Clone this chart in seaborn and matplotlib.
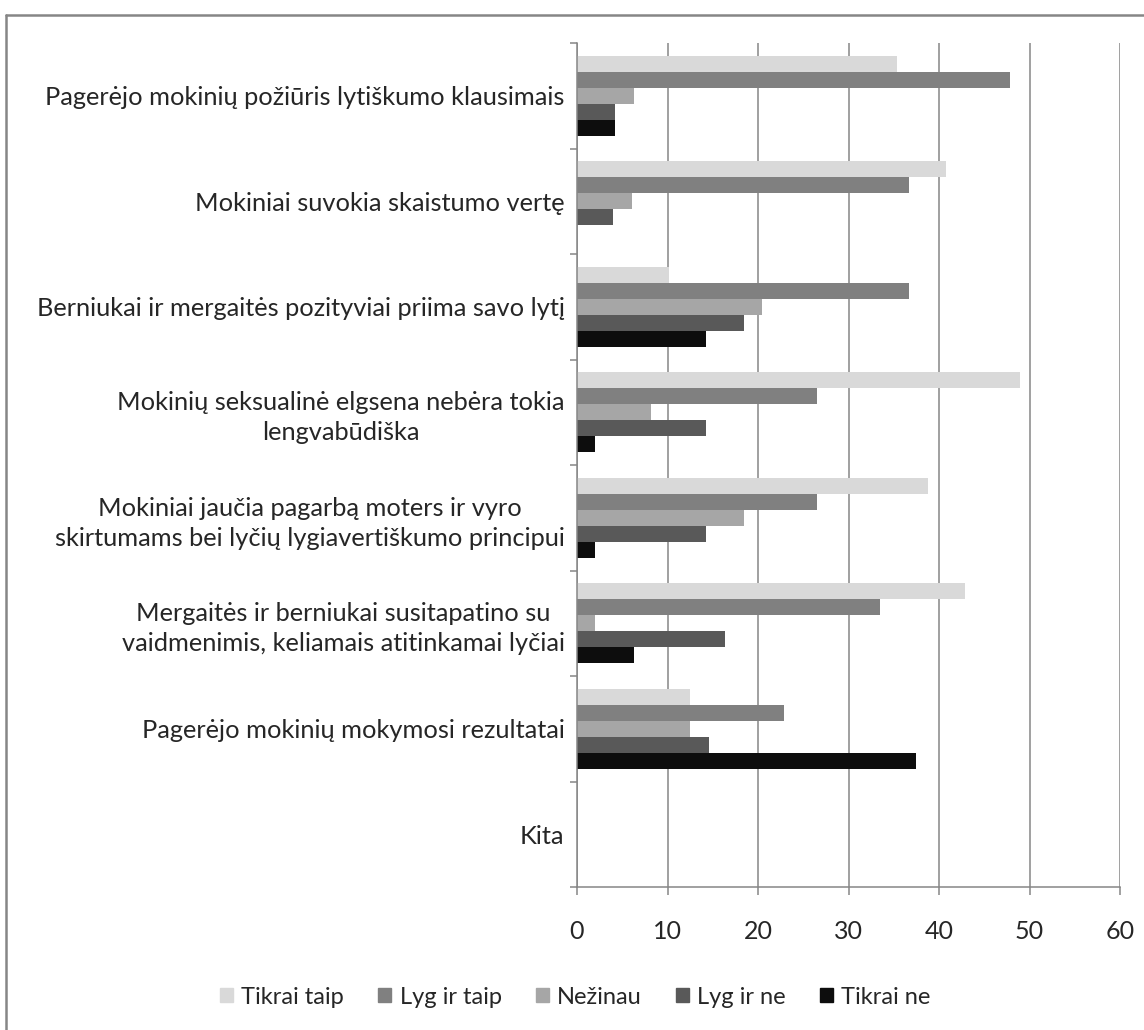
import numpy as np
import pandas as pd
import matplotlib.pyplot as plt
from matplotlib.lines import Line2D
import seaborn as sns

# %%
categories = [
    'Pagerėjo mokinių požiūris lytiškumo klausimais',
    'Mokiniai suvokia skaistumo vertę',
    'Berniukai ir mergaitės pozityviai priima savo lytį',
    'Mokinių seksualinė elgsena nebėra tokia\nlengvabūdiška',
    'Mokiniai jaučia pagarbą moters ir vyro\nskirtumams bei lyčių lygiavertiškumo principui',
    'Mergaitės ir berniukai susitapatino su\nvaidmenimis, keliamais atitinkamai lyčiai',
    'Pagerėjo mokinių mokymosi rezultatai',
    'Kita',
]
series = ['Tikrai taip', 'Lyg ir taip', 'Nežinau', 'Lyg ir ne', 'Tikrai ne']

tikrai_taip = [35.4, 40.8, 10.2, 49.0, 38.8, 42.9, 12.5, 0]
lyg_ir_taip = [47.9, 36.7, 36.7, 26.5, 26.5, 33.5, 22.9, 0]
nezinau = [6.3, 6.1, 20.4, 8.2, 18.4, 2.0, 12.5, 0]
lyg_ir_ne = [4.2, 4.0, 18.4, 14.3, 14.3, 16.3, 14.6, 0]
tikrai_ne = [4.2, 0, 14.3, 2.0, 2.0, 6.3, 37.5, 0]

x_ticks = [0, 10, 20, 30, 40, 50, 60]

colors = ['#d9d9d9', '#808080', '#a6a6a6', '#595959', '#0d0d0d']
grid_color = '#868686'

# %%
df = pd.DataFrame({
    'Category': np.repeat(categories, len(series)),
    'Series': series * len(categories),
    'Value': np.column_stack([tikrai_taip, lyg_ir_taip, nezinau,
                              lyg_ir_ne, tikrai_ne]).ravel(),
})

# %%
sns.set_style('white')
plt.rcParams['font.family'] = ['Lato', 'DejaVu Sans']

fig = plt.figure(figsize=(11.44, 10.30), dpi=100)
ax = fig.add_axes([577 / 1144, 1 - 887 / 1030, 543 / 1144, 844 / 1030])

sns.barplot(data=df, y='Category', x='Value', hue='Series',
            hue_order=series, palette=colors, width=0.76,
            orient='h', ax=ax, saturation=1, linewidth=0, errorbar=None)

ax.set_xlim(0, 60)
ax.set_ylim(len(categories) - 0.5, -0.5)
ax.set_xticks(x_ticks)
ax.set_xlabel('')
ax.set_ylabel('')
ax.set_axisbelow(True)
ax.xaxis.grid(True, color=grid_color, linewidth=1.1)

for side in ['top', 'right']:
    ax.spines[side].set_visible(False)
for side in ['left', 'bottom']:
    ax.spines[side].set_color(grid_color)
    ax.spines[side].set_linewidth(1.1)

ax.set_yticks(np.arange(-0.5, len(categories), 1.0), minor=True)
ax.tick_params(axis='y', which='major', length=0, pad=9, labelsize=18.3)
ax.tick_params(axis='y', which='minor', length=5, width=1.1,
               color=grid_color, direction='out', left=True)
ax.tick_params(axis='x', which='major', length=5.5, width=1.1,
               color=grid_color, direction='out', bottom=True,
               pad=18, labelsize=18)

for lbl in ax.get_yticklabels():
    lbl.set_multialignment('center')
    lbl.set_linespacing(1.38)

ax.legend_.remove()
handles = [plt.Rectangle((0, 0), 1, 1, color=c) for c in colors]
fig.legend(handles, series, loc='center', bbox_to_anchor=(0.503, 1 - 997 / 1030),
           ncol=5, frameon=False, fontsize=17, handlelength=0.55,
           handleheight=0.55, handletextpad=0.35, columnspacing=1.45)

fig.add_artist(Line2D([6 / 1144, 1.0], [1 - 15 / 1030] * 2,
                      transform=fig.transFigure, color=grid_color, linewidth=1.8))
fig.add_artist(Line2D([6 / 1144] * 2, [0.0, 1 - 15 / 1030],
                      transform=fig.transFigure, color=grid_color, linewidth=1.8))

plt.savefig('out.png', dpi=100)
